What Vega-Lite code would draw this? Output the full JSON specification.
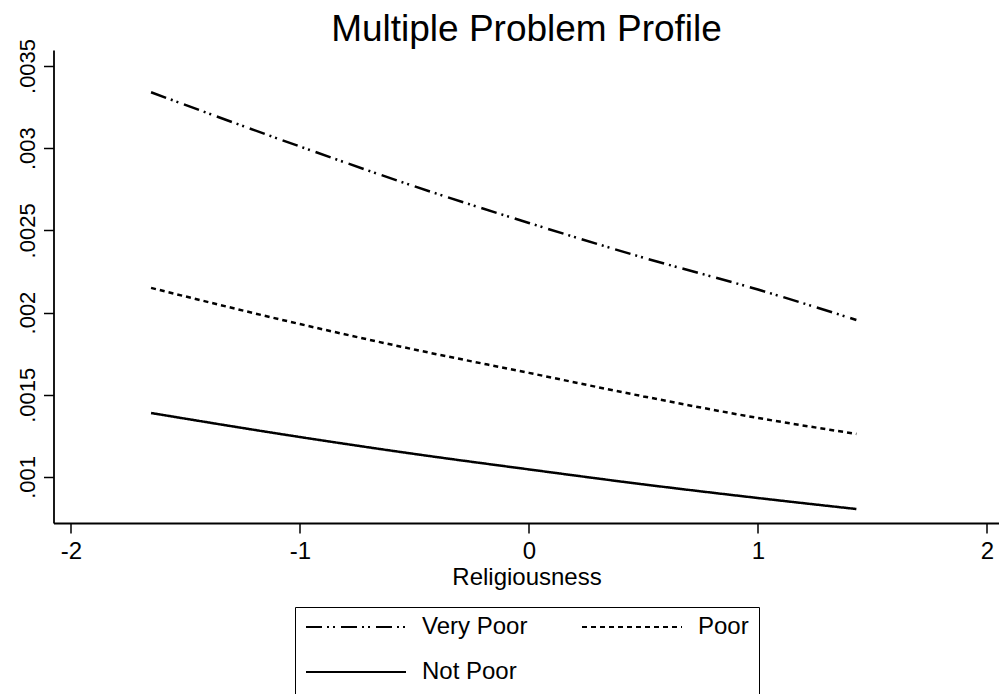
{
  "$schema": "https://vega.github.io/schema/vega-lite/v6.json",
  "autosize": "none",
  "width": 946,
  "height": 473,
  "padding": {"left": 53.5, "top": 50, "right": 0, "bottom": 171},
  "background": "white",
  "config": {
    "view": {"stroke": null},
    "font": "Liberation Sans",
    "axis": {
      "domainColor": "black",
      "domainWidth": 1.8,
      "tickColor": "black",
      "tickWidth": 1.5,
      "tickSize": 10,
      "labelColor": "black",
      "labelFont": "Liberation Sans",
      "labelFontSize": 22,
      "titleFont": "Liberation Sans",
      "titleFontSize": 24,
      "titleFontWeight": "normal",
      "titleColor": "black",
      "grid": false
    }
  },
  "title": {
    "text": "Multiple Problem Profile",
    "font": "Liberation Sans",
    "fontSize": 37,
    "fontWeight": "normal",
    "color": "black",
    "anchor": "middle",
    "baseline": "bottom",
    "offset": -48
  },
  "data": {
    "values": [
      {"religiousness": -1.65, "prob": 0.00334, "series": "Very Poor"},
      {"religiousness": -1.0, "prob": 0.00301, "series": "Very Poor"},
      {"religiousness": -0.5, "prob": 0.002768, "series": "Very Poor"},
      {"religiousness": 0.0, "prob": 0.002545, "series": "Very Poor"},
      {"religiousness": 0.5, "prob": 0.002334, "series": "Very Poor"},
      {"religiousness": 1.0, "prob": 0.00214, "series": "Very Poor"},
      {"religiousness": 1.43, "prob": 0.001955, "series": "Very Poor"},
      {"religiousness": -1.65, "prob": 0.00215, "series": "Poor"},
      {"religiousness": -1.0, "prob": 0.00193, "series": "Poor"},
      {"religiousness": -0.5, "prob": 0.001775, "series": "Poor"},
      {"religiousness": 0.0, "prob": 0.001633, "series": "Poor"},
      {"religiousness": 0.5, "prob": 0.00149, "series": "Poor"},
      {"religiousness": 1.0, "prob": 0.001359, "series": "Poor"},
      {"religiousness": 1.43, "prob": 0.001262, "series": "Poor"},
      {"religiousness": -1.65, "prob": 0.001389, "series": "Not Poor"},
      {"religiousness": -1.0, "prob": 0.001243, "series": "Not Poor"},
      {"religiousness": -0.5, "prob": 0.00114, "series": "Not Poor"},
      {"religiousness": 0.0, "prob": 0.001046, "series": "Not Poor"},
      {"religiousness": 0.5, "prob": 0.000955, "series": "Not Poor"},
      {"religiousness": 1.0, "prob": 0.000872, "series": "Not Poor"},
      {"religiousness": 1.43, "prob": 0.000805, "series": "Not Poor"}
    ]
  },
  "mark": {"type": "line", "color": "black", "strokeWidth": 2.5, "interpolate": "monotone"},
  "encoding": {
    "x": {
      "field": "religiousness",
      "type": "quantitative",
      "scale": {"domain": [-2.076, 2.055], "nice": false, "zero": false},
      "axis": {
        "title": "Religiousness",
        "values": [-2, -1, 0, 1, 2],
        "labelExpr": "'' + datum.value",
        "labelPadding": 6,
        "labelFontSize": 24,
        "titlePadding": 2
      }
    },
    "y": {
      "field": "prob",
      "type": "quantitative",
      "scale": {"domain": [0.00072, 0.003597], "nice": false, "zero": false},
      "axis": {
        "title": null,
        "values": [0.001, 0.0015, 0.002, 0.0025, 0.003, 0.0035],
        "labelExpr": "substring(format(datum.value, '.4~f'), 1)",
        "labelAngle": -90,
        "labelAlign": "center",
        "labelBaseline": "bottom",
        "labelPadding": 4
      }
    },
    "strokeDash": {
      "field": "series",
      "type": "nominal",
      "scale": {
        "domain": ["Very Poor", "Poor", "Not Poor"],
        "range": [[16, 5, 2, 4, 2, 6], [5, 4], [1, 0]]
      },
      "legend": {
        "title": null,
        "orient": "none",
        "legendX": 241.5,
        "legendY": 557,
        "columns": 2,
        "direction": "horizontal",
        "gridAlign": "all",
        "symbolType": "stroke",
        "symbolSize": 10000,
        "symbolStrokeWidth": 2,
        "symbolStrokeColor": "black",
        "clipHeight": 20,
        "labelFont": "Liberation Sans",
        "labelFontSize": 24,
        "labelColor": "black",
        "labelOffset": 15,
        "labelLimit": 300,
        "columnPadding": 53,
        "rowPadding": 21,
        "padding": 10,
        "strokeColor": "black",
        "fillColor": "white"
      }
    }
  }
}
